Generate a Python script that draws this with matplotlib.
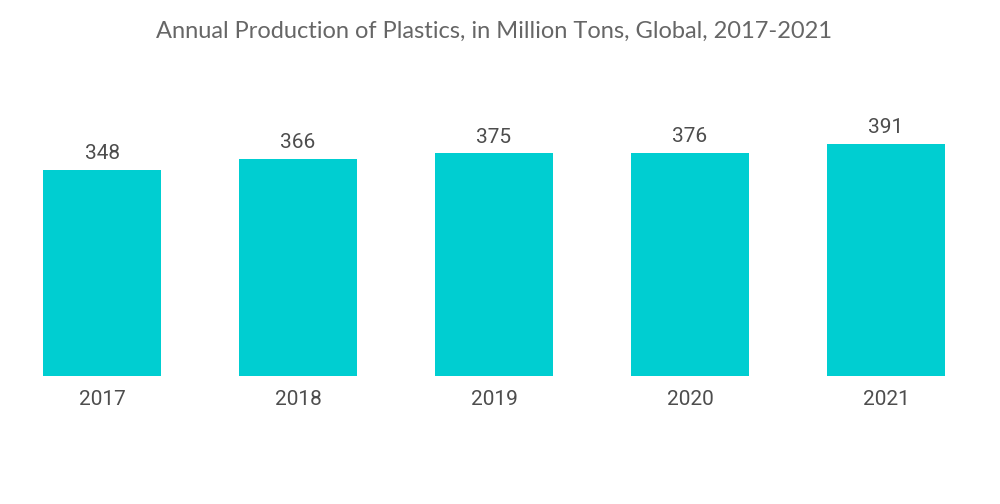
import matplotlib
matplotlib.use("Agg")
import matplotlib.pyplot as plt

years = ["2017", "2018", "2019", "2020", "2021"]
production = [348, 366, 375, 376, 391]

fig = plt.figure(figsize=(10, 5.04), dpi=100)
ax = fig.add_axes([0.004, 1 - 376 / 504, 0.98, 0.5])
x = range(len(years))
bars = ax.bar(x, production, width=0.6, color="#00CED1")
ax.set_xlim(-0.5, 4.5)
ax.set_ylim(0, 0.5 * 504 / (232 / 391))
for xi, v in zip(x, production):
    ax.annotate(str(v), (xi, v), xytext=(0, 5), textcoords="offset points",
                ha="center", va="bottom", fontsize=15, color="#4d4d4d",
                family="Roboto")
ax.set_xticks(list(x))
ax.set_xticklabels(years, fontsize=15, color="#4d4d4d", family="Roboto")
ax.tick_params(axis="x", length=0, pad=10)
ax.set_yticks([])
for s in ax.spines.values():
    s.set_visible(False)
fig.text(0.494, 0.938, "Annual Production of Plastics, in Million Tons, Global, 2017-2021",
         ha="center", va="center", fontsize=17, color="#666666", family="Lato",
         fontweight="normal")
fig.savefig("out.png", dpi=100)
